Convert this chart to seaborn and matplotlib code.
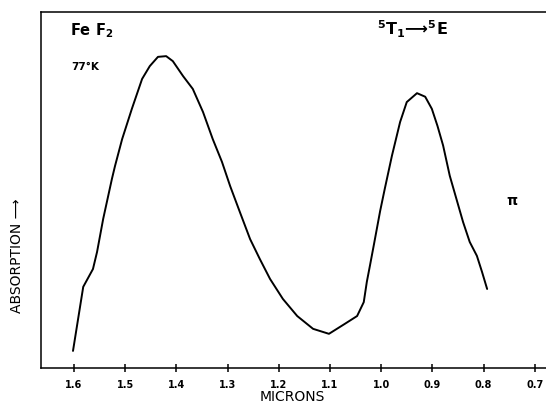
import matplotlib
matplotlib.use("Agg")
import matplotlib.pyplot as plt
import seaborn as sns
import pandas as pd

# Data (wavelength in microns, absorption in arbitrary units)
microns = [1.602, 1.582, 1.563, 1.555, 1.543, 1.526, 1.520, 1.506, 1.487, 1.467,
           1.452, 1.436, 1.420, 1.407, 1.387, 1.368, 1.348, 1.329, 1.311, 1.295,
           1.276, 1.256, 1.237, 1.217, 1.192, 1.164, 1.133, 1.102, 1.071, 1.047,
           1.034, 1.028, 1.022, 1.014, 1.002, 0.993, 0.979, 0.963, 0.950, 0.930,
           0.914, 0.901, 0.890, 0.879, 0.866, 0.852, 0.840, 0.827, 0.813, 0.803,
           0.793]
absorption = [0.48, 2.28, 2.78, 3.26, 4.19, 5.31, 5.67, 6.43, 7.28, 8.12,
              8.48, 8.74, 8.76, 8.62, 8.20, 7.84, 7.19, 6.43, 5.79, 5.11,
              4.38, 3.62, 3.06, 2.50, 1.94, 1.46, 1.10, 0.96, 1.24, 1.46,
              1.85, 2.42, 2.87, 3.48, 4.41, 5.03, 5.96, 6.91, 7.47, 7.72,
              7.62, 7.28, 6.80, 6.25, 5.40, 4.70, 4.10, 3.54, 3.15, 2.70,
              2.22]
tick_values = [1.6, 1.5, 1.4, 1.3, 1.2, 1.1, 1.0, 0.9, 0.8, 0.7]
tick_labels = ["1.6", "1.5", "1.4", "1.3", "1.2", "1.1", "1.0", "0.9", "0.8", "0.7"]

df = pd.DataFrame({"microns": microns, "absorption": absorption})

sns.set_style("white")
plt.rcParams['font.family'] = ['DejaVu Sans']
plt.rcParams['mathtext.default'] = 'bf'
plt.rcParams['text.color'] = 'black'
plt.rcParams['axes.labelcolor'] = 'black'

W, H = 546, 406
fig = plt.figure(figsize=(W / 100, H / 100), dpi=100)
ax = fig.add_axes([41 / W, (H - 369) / H, 1 - 41 / W, (369 - 13) / H])

sns.lineplot(data=df, x="microns", y="absorption", ax=ax, color="black",
             linewidth=1.4, sort=False, estimator=None)

ax.set_xlim(1.6645, 0.678)
ax.set_ylim(0, 10)

ax.set_xticks(tick_values)
ax.set_xticklabels(tick_labels, fontsize=7, fontweight="bold", color="black")
ax.set_yticks([])
ax.tick_params(axis="x", direction="inout", length=5.5, width=1.1, pad=5,
               bottom=True, colors="black")

for side in ["left", "top", "bottom"]:
    ax.spines[side].set_visible(True)
    ax.spines[side].set_color("black")
    ax.spines[side].set_linewidth(1.1)
ax.spines["right"].set_visible(False)

ax.set_xlabel("MICRONS", fontsize=10, color="black")
ax.xaxis.set_label_coords((292 - 41) / (W - 41), (369 - 390) / 356)
ax.set_ylabel("ABSORPTION \u27f6", fontsize=10, color="black")
ax.yaxis.set_label_coords((24 - 41) / (W - 41), (369 - 256) / 356)

fig.text(70 / W, 1 - 35 / H, "Fe F$_2$", fontsize=10.5, fontweight="bold",
         ha="left", va="baseline", color="black")
fig.text(71 / W, 1 - 70 / H, "77\u00b0K", fontsize=7.5, fontweight="bold",
         ha="left", va="baseline", color="black")
fig.text(377 / W, 1 - 35 / H, "$^5$T$_1$\u27f6$^5$E", fontsize=11.5,
         fontweight="bold", ha="left", va="baseline", color="black")
fig.text(512 / W, 1 - 201 / H, "\u03c0", fontsize=10, fontweight="bold",
         ha="center", va="center", color="black")

fig.savefig("out.png", dpi=100)
